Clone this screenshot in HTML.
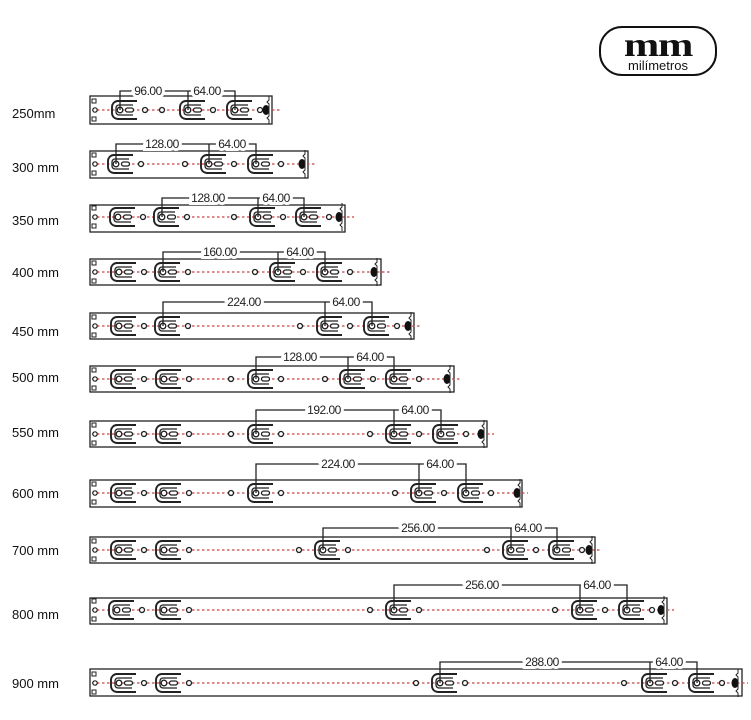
<!DOCTYPE html>
<html><head><meta charset="utf-8"><style>
html,body{margin:0;padding:0;background:#fff;}
svg{display:block;}
.lab{font-family:"Liberation Sans",sans-serif;font-size:13px;fill:#111;}
.dim{font-family:"Liberation Sans Narrow","Liberation Sans",sans-serif;font-size:12px;fill:#222;stroke:#fff;stroke-width:6px;paint-order:stroke;text-anchor:middle;letter-spacing:-0.5px;}
.rail{fill:none;stroke:#222;stroke-width:1.3;}
.cl{stroke:#c44;stroke-width:1.2;stroke-dasharray:2.5 2.5;}
.dl{fill:none;stroke:#222;stroke-width:1.3;}
</style></head><body>
<svg width="751" height="720" viewBox="0 0 751 720" xmlns="http://www.w3.org/2000/svg">
<defs>
<g id="b">
<path d="M17,-9 H-2 a6,6 0 0 0 -6,6 v6 a6,6 0 0 0 6,6 H17" fill="none" stroke="#222" stroke-width="1.9"/>
<path d="M13,-5 H-1 a3,3 0 0 0 -3,3 v4 a3,3 0 0 0 3,3 H13" fill="none" stroke="#222" stroke-width="1.3"/>
<circle cx="0" cy="0" r="2.8" fill="#fff" stroke="#222" stroke-width="1.3"/>
<rect x="5.5" y="-2" width="8" height="4" rx="2" fill="#fff" stroke="#222" stroke-width="1.3"/>
<circle cx="25" cy="0" r="2.5" fill="#fff" stroke="#222" stroke-width="1.3"/>
</g>
<g id="h"><circle cx="0" cy="0" r="2.5" fill="#fff" stroke="#222" stroke-width="1.3"/></g>
<g id="e"><ellipse cx="0" cy="0" rx="3.5" ry="5" fill="#111"/><path d="M3,-14 v4 l-2,2 l2,2 v12 l-2,2 l2,2 v4" fill="none" stroke="#222" stroke-width="1"/></g>
<g id="l"><rect x="2" y="-11" width="4" height="4" fill="none" stroke="#222"/><rect x="2" y="7" width="4" height="4" fill="none" stroke="#222"/><circle cx="5" cy="0" r="2.2" fill="#fff" stroke="#222" stroke-width="1.2"/></g>
</defs>

<!-- logo -->
<rect x="600" y="27" width="116" height="48" rx="22" fill="#fff" stroke="#111" stroke-width="2"/>
<text x="658" y="56" text-anchor="middle" style="font-family:'Liberation Serif',serif;font-weight:bold;font-size:34px;letter-spacing:-1px" fill="#111" transform="translate(658 0) scale(1.25 1) translate(-658 0)">mm</text>
<text x="658" y="70" text-anchor="middle" class="lab" style="font-size:13px">milímetros</text>

<!-- row 1 -->
<text x="12" y="118" class="lab">250mm</text>
<rect class="rail" x="90" y="96" width="182" height="28"/>
<line class="cl" x1="92" y1="110" x2="280" y2="110"/>
<use href="#l" x="90" y="110"/>
<use href="#h" x="162" y="110"/>
<use href="#b" x="120" y="110"/><use href="#b" x="188" y="110"/><use href="#b" x="235" y="110"/>
<use href="#e" x="266" y="110"/>
<path class="dl" d="M120,110 V91 H235 V110 M188,91 V110"/>
<text class="dim" x="148" y="95">96.00</text><text class="dim" x="207" y="95">64.00</text>

<!-- row 2 -->
<text x="12" y="172" class="lab">300 mm</text>
<rect class="rail" x="90" y="151" width="218" height="27"/>
<line class="cl" x1="92" y1="164" x2="316" y2="164"/>
<use href="#l" x="90" y="164"/>
<use href="#h" x="185" y="164"/>
<use href="#b" x="116" y="164"/><use href="#b" x="209" y="164"/><use href="#b" x="256" y="164"/>
<use href="#e" x="302" y="164"/>
<path class="dl" d="M116,164 V144 H256 V164 M209,144 V164"/>
<text class="dim" x="162" y="148">128.00</text><text class="dim" x="232" y="148">64.00</text>

<!-- row 3 -->
<text x="12" y="225" class="lab">350 mm</text>
<rect class="rail" x="90" y="205" width="255" height="27"/>
<line class="cl" x1="92" y1="217" x2="354" y2="217"/>
<use href="#l" x="90" y="217"/>
<use href="#h" x="234" y="217"/>
<use href="#b" x="118" y="217"/><use href="#b" x="162" y="217"/><use href="#b" x="258" y="217"/><use href="#b" x="304" y="217"/>
<use href="#e" x="339" y="217"/>
<path class="dl" d="M162,217 V198 H304 V217 M258,198 V217"/>
<text class="dim" x="208" y="202">128.00</text><text class="dim" x="276" y="202">64.00</text>

<!-- row 4 -->
<text x="12" y="277" class="lab">400 mm</text>
<rect class="rail" x="90" y="259" width="291" height="26"/>
<line class="cl" x1="92" y1="272" x2="390" y2="272"/>
<use href="#l" x="90" y="272"/>
<use href="#h" x="255" y="272"/>
<use href="#b" x="119" y="272"/><use href="#b" x="163" y="272"/><use href="#b" x="278" y="272"/><use href="#b" x="325" y="272"/>
<use href="#e" x="374" y="272"/>
<path class="dl" d="M163,272 V252 H325 V272 M278,252 V272"/>
<text class="dim" x="220" y="256">160.00</text><text class="dim" x="300" y="256">64.00</text>

<!-- row 5 -->
<text x="12" y="336" class="lab">450 mm</text>
<rect class="rail" x="90" y="313" width="324" height="26"/>
<line class="cl" x1="92" y1="326" x2="422" y2="326"/>
<use href="#l" x="90" y="326"/>
<use href="#h" x="300" y="326"/>
<use href="#b" x="119" y="326"/><use href="#b" x="163" y="326"/><use href="#b" x="325" y="326"/><use href="#b" x="372" y="326"/>
<use href="#e" x="408" y="326"/>
<path class="dl" d="M163,326 V302 H372 V326 M325,302 V326"/>
<text class="dim" x="244" y="306">224.00</text><text class="dim" x="346" y="306">64.00</text>

<!-- row 6 -->
<text x="12" y="382" class="lab">500 mm</text>
<rect class="rail" x="90" y="366" width="364" height="26"/>
<line class="cl" x1="92" y1="379" x2="462" y2="379"/>
<use href="#l" x="90" y="379"/>
<use href="#h" x="231" y="379"/><use href="#h" x="325" y="379"/>
<use href="#b" x="119" y="379"/><use href="#b" x="164" y="379"/><use href="#b" x="256" y="379"/><use href="#b" x="348" y="379"/><use href="#b" x="394" y="379"/>
<use href="#e" x="447" y="379"/>
<path class="dl" d="M256,379 V357 H394 V379 M348,357 V379"/>
<text class="dim" x="300" y="361">128.00</text><text class="dim" x="370" y="361">64.00</text>

<!-- row 7 -->
<text x="12" y="437" class="lab">550 mm</text>
<rect class="rail" x="90" y="421" width="397" height="26"/>
<line class="cl" x1="92" y1="434" x2="494" y2="434"/>
<use href="#l" x="90" y="434"/>
<use href="#h" x="231" y="434"/><use href="#h" x="370" y="434"/>
<use href="#b" x="119" y="434"/><use href="#b" x="164" y="434"/><use href="#b" x="256" y="434"/><use href="#b" x="394" y="434"/><use href="#b" x="441" y="434"/>
<use href="#e" x="481" y="434"/>
<path class="dl" d="M256,434 V410 H441 V434 M394,410 V434"/>
<text class="dim" x="324" y="414">192.00</text><text class="dim" x="415" y="414">64.00</text>

<!-- row 8 -->
<text x="12" y="498" class="lab">600 mm</text>
<rect class="rail" x="90" y="480" width="432" height="27"/>
<line class="cl" x1="92" y1="493" x2="528" y2="493"/>
<use href="#l" x="90" y="493"/>
<use href="#h" x="231" y="493"/><use href="#h" x="395" y="493"/>
<use href="#b" x="119" y="493"/><use href="#b" x="164" y="493"/><use href="#b" x="256" y="493"/><use href="#b" x="419" y="493"/><use href="#b" x="466" y="493"/>
<use href="#e" x="517" y="493"/>
<path class="dl" d="M256,493 V464 H466 V493 M419,464 V493"/>
<text class="dim" x="338" y="468">224.00</text><text class="dim" x="440" y="468">64.00</text>

<!-- row 9 -->
<text x="12" y="555" class="lab">700 mm</text>
<rect class="rail" x="90" y="537" width="505" height="26"/>
<line class="cl" x1="92" y1="550" x2="600" y2="550"/>
<use href="#l" x="90" y="550"/>
<use href="#h" x="299" y="550"/><use href="#h" x="487" y="550"/>
<use href="#b" x="119" y="550"/><use href="#b" x="164" y="550"/><use href="#b" x="323" y="550"/><use href="#b" x="511" y="550"/><use href="#b" x="557" y="550"/>
<use href="#e" x="589" y="550"/>
<path class="dl" d="M323,550 V528 H557 V550 M511,528 V550"/>
<text class="dim" x="418" y="532">256.00</text><text class="dim" x="528" y="532">64.00</text>

<!-- row 10 -->
<text x="12" y="619" class="lab">800 mm</text>
<rect class="rail" x="90" y="598" width="577" height="26"/>
<line class="cl" x1="92" y1="610" x2="674" y2="610"/>
<use href="#l" x="90" y="610"/>
<use href="#h" x="370" y="610"/><use href="#h" x="555" y="610"/>
<use href="#b" x="117" y="610"/><use href="#b" x="164" y="610"/><use href="#b" x="394" y="610"/><use href="#b" x="580" y="610"/><use href="#b" x="627" y="610"/>
<use href="#e" x="661" y="610"/>
<path class="dl" d="M394,610 V585 H627 V610 M580,585 V610"/>
<text class="dim" x="482" y="589">256.00</text><text class="dim" x="597" y="589">64.00</text>

<!-- row 11 -->
<text x="12" y="688" class="lab">900 mm</text>
<rect class="rail" x="90" y="669" width="652" height="27"/>
<line class="cl" x1="92" y1="683" x2="748" y2="683"/>
<use href="#l" x="90" y="683"/>
<use href="#h" x="416" y="683"/><use href="#h" x="624" y="683"/>
<use href="#b" x="119" y="683"/><use href="#b" x="164" y="683"/><use href="#b" x="440" y="683"/><use href="#b" x="650" y="683"/><use href="#b" x="697" y="683"/>
<use href="#e" x="735" y="683"/>
<path class="dl" d="M440,683 V662 H697 V683 M650,662 V683"/>
<text class="dim" x="542" y="666">288.00</text><text class="dim" x="669" y="666">64.00</text>
</svg>
</body></html>
